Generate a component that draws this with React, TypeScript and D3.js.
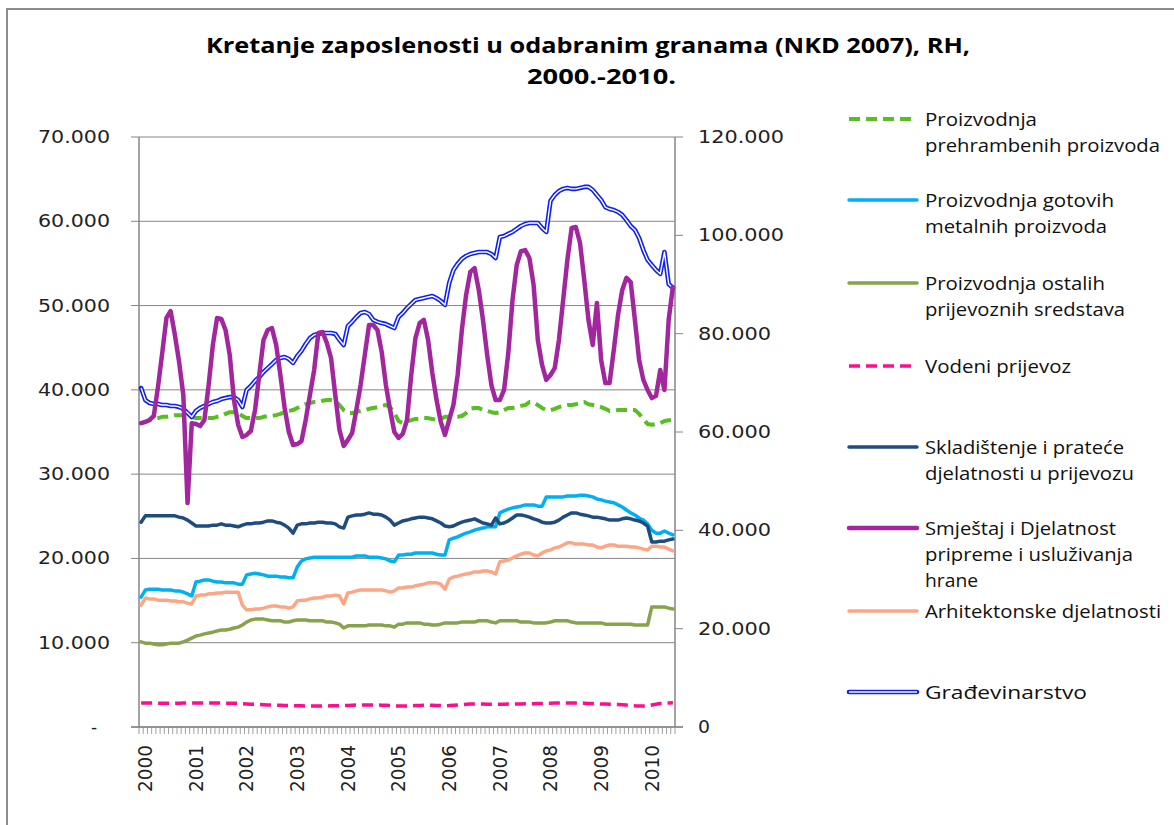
import React from 'react';
import * as d3 from 'd3';

// ---------- DATA ----------
const months: Date[] = d3.timeMonth.range(new Date(2000, 0, 1), new Date(2010, 7, 1)); // Jan 2000 .. Jul 2010 (127)
const yearLabels = ['2000', '2001', '2002', '2003', '2004', '2005', '2006', '2007', '2008', '2009', '2010'];
const leftTicks = [0, 10000, 20000, 30000, 40000, 50000, 60000, 70000];
const rightTicks = [0, 20000, 40000, 60000, 80000, 100000, 120000];

// left axis
const prehrambeni = [
  36050,36200,36400,36550,36650,36800,36800,36900,37000,37000,37000,36900,
  36800,36650,36650,36650,36650,36650,36800,36900,37150,37350,37350,37250,
  36900,36650,36650,36650,36650,36800,36900,36900,37000,37150,37350,37500,
  37600,37850,38100,38300,38450,38550,38550,38700,38800,38800,38700,38200,
  37600,37250,37250,37350,37500,37600,37750,37850,37950,38100,38200,37950,
  37250,36300,36050,36300,36400,36550,36550,36650,36650,36550,36400,36550,
  36800,36800,36800,36800,36900,37250,37750,37850,37850,37600,37500,37350,
  37250,37350,37600,37850,37850,37950,38100,38200,38550,38550,38200,37850,
  37600,37600,37750,37950,38100,38200,38200,38300,38450,38550,38300,38200,
  38100,37950,37750,37500,37500,37600,37600,37600,37600,37600,37150,36550,
  35950,35850,35950,36050,36300,36400,36400];
const metalni = [
  15400,16250,16350,16350,16350,16250,16250,16250,16150,16150,16000,15800,
  15550,17200,17300,17450,17450,17300,17200,17200,17100,17100,17100,16950,
  16950,18050,18150,18250,18150,18050,17900,17900,17900,17800,17800,17700,
  17700,19000,19700,19950,20050,20150,20150,20150,20150,20150,20150,20150,
  20150,20150,20150,20300,20300,20300,20150,20150,20150,20050,19950,19700,
  19600,20400,20400,20500,20500,20650,20650,20650,20650,20650,20500,20400,
  20400,22200,22400,22550,22800,23000,23150,23350,23500,23600,23750,23750,
  23750,25400,25650,25850,26000,26100,26200,26350,26350,26350,26200,26200,
  27300,27300,27300,27300,27300,27400,27400,27400,27500,27500,27400,27300,
  27050,26950,26800,26700,26600,26350,26100,25750,25400,25150,24800,24550,
  24100,23350,23000,23000,23250,23000,22800];
const ostaliPrijevozni = [
  10100,9950,9950,9850,9750,9750,9850,9950,9950,9950,10100,10300,
  10550,10800,10900,11050,11150,11250,11400,11500,11500,11600,11750,11850,
  12100,12450,12700,12800,12800,12800,12700,12600,12600,12600,12450,12450,
  12600,12700,12700,12700,12600,12600,12600,12600,12450,12450,12350,12200,
  11750,12000,12000,12000,12000,12000,12100,12100,12100,12100,12000,12000,
  11850,12200,12200,12350,12350,12350,12350,12200,12200,12100,12100,12200,
  12350,12350,12350,12350,12450,12450,12450,12450,12600,12600,12600,12450,
  12350,12600,12600,12600,12600,12600,12450,12450,12450,12350,12350,12350,
  12350,12450,12600,12600,12600,12600,12450,12350,12350,12350,12350,12350,
  12350,12350,12200,12200,12200,12200,12200,12200,12200,12100,12100,12100,
  12100,14250,14250,14250,14250,14100,14000];
const vodeni = [
  2850,2850,2850,2840,2830,2830,2820,2820,2820,2830,2840,2850,
  2850,2860,2860,2860,2850,2850,2840,2840,2830,2830,2820,2810,
  2750,2720,2700,2680,2660,2640,2620,2600,2580,2570,2560,2550,
  2530,2520,2510,2500,2500,2500,2500,2500,2500,2510,2520,2530,
  2550,2560,2580,2600,2610,2620,2620,2610,2600,2590,2580,2560,
  2500,2490,2490,2500,2520,2540,2560,2580,2580,2570,2560,2550,
  2520,2540,2580,2620,2660,2700,2720,2730,2730,2720,2710,2700,
  2700,2700,2710,2720,2720,2730,2740,2750,2760,2770,2780,2790,
  2800,2820,2840,2850,2850,2860,2860,2850,2840,2830,2800,2780,
  2750,2730,2720,2700,2680,2660,2640,2600,2560,2520,2500,2490,
  2500,2600,2700,2780,2830,2860,2870];
const skladistenje = [
  24300,25050,25050,25050,25050,25050,25050,25050,25050,24900,24800,24550,
  24200,23850,23850,23850,23850,23950,23950,24100,23950,23950,23850,23750,
  23950,24100,24100,24200,24200,24300,24450,24450,24300,24200,23950,23600,
  23000,23950,24100,24100,24200,24200,24300,24300,24200,24200,24100,23750,
  23600,24900,25050,25150,25150,25250,25400,25250,25250,25150,24900,24550,
  23950,24200,24450,24550,24700,24800,24900,24900,24800,24700,24450,24200,
  23850,23750,23850,24100,24300,24450,24550,24700,24450,24200,24100,23950,
  24800,24100,24200,24450,24800,25150,25150,25050,24900,24700,24550,24300,
  24200,24200,24300,24550,24900,25150,25400,25400,25250,25150,25050,24900,
  24900,24800,24700,24550,24550,24550,24700,24800,24700,24550,24450,24200,
  23850,21950,21950,22050,22050,22200,22300];
const arhitektonske = [
  14450,15300,15200,15200,15050,15050,15050,14950,14950,14850,14850,14700,
  14600,15550,15650,15650,15800,15800,15900,15900,16000,16000,16000,16000,
  14450,13900,13900,14000,14000,14100,14250,14350,14350,14250,14250,14100,
  14250,14950,15050,15050,15200,15300,15300,15400,15550,15550,15650,15550,
  14600,15900,16000,16150,16250,16250,16250,16250,16250,16250,16150,16000,
  16150,16500,16500,16600,16600,16750,16850,16950,17100,17100,17100,16950,
  16350,17550,17800,17900,18050,18150,18250,18400,18400,18500,18500,18400,
  18150,19600,19700,19800,20050,20300,20500,20650,20650,20400,20300,20650,
  20900,21000,21250,21350,21600,21850,21850,21700,21700,21700,21600,21600,
  21350,21250,21450,21600,21600,21450,21450,21450,21350,21350,21250,21100,
  21000,21450,21450,21350,21350,21100,20900];
// right axis
const smjestaj = [
  61800,62050,62450,63250,69150,76050,83200,84600,79750,74250,67550,45550,
  61800,61650,61200,62450,69550,77700,83200,83000,80750,75650,66500,61450,
  59000,59400,60200,64500,71600,78700,80750,81150,77700,71600,64900,60000,
  57350,57550,58150,62450,67550,72600,80150,80350,78100,75050,67550,60400,
  57150,58400,59800,64500,69550,75650,81750,81750,80750,76300,69550,64500,
  60000,58800,59600,62450,71600,79100,82150,82800,78700,72000,66500,62050,
  59400,62450,65500,71600,80750,87850,92550,93350,88900,82800,75650,69550,
  66500,66500,68550,76050,86850,93950,96800,97000,95400,89900,78700,73650,
  70600,71600,73000,78700,86850,95000,101500,101700,98450,90900,82800,77700,
  86250,74650,69950,69950,76700,83800,88900,91350,90500,82800,74650,70600,
  68550,66900,67350,72600,68550,82800,89500];
const gradjevinarstvo = [
  68950,66500,65900,65700,65700,65500,65500,65300,65300,65100,64700,63900,
  63050,64300,64900,65300,65700,66100,66300,66700,66900,67100,67100,66500,
  65100,68550,69350,70400,71200,72200,73000,73800,74650,75050,75250,74850,
  74050,75450,76500,77900,79100,79750,79950,80150,80150,80150,79950,78700,
  77700,81550,82400,83400,84200,84400,84000,82800,82400,82150,81950,81550,
  81150,83400,84200,85200,86050,86850,87050,87250,87450,87650,87250,86650,
  85850,90300,92950,94200,95200,95800,96200,96400,96600,96600,96600,96200,
  95400,99650,99850,100300,100700,101300,101900,102300,102500,102500,102500,101500,
  100700,107000,108200,109000,109450,109650,109450,109450,109650,109850,109850,109250,
  108200,107200,105750,105350,105150,104750,104150,103100,101900,101100,99450,97000,
  95000,93950,92950,92150,96600,90100,89300];

type Series = {
  name: string[];
  values: number[];
  axis: 'L' | 'R';
  color: string;
  width: number;
  dash?: string;
  double?: boolean;
  lens: number[];
};

const series: Series[] = [
  { name: ['Proizvodnja', 'prehrambenih proizvoda'], values: prehrambeni, axis: 'L', color: '#58BE22', width: 4, dash: '11,6', lens: [112, 235] },
  { name: ['Proizvodnja gotovih', 'metalnih proizvoda'], values: metalni, axis: 'L', color: '#00B0F0', width: 3.5, lens: [189, 182] },
  { name: ['Proizvodnja ostalih', 'prijevoznih sredstava'], values: ostaliPrijevozni, axis: 'L', color: '#87A34C', width: 3.5, lens: [180, 200] },
  { name: ['Vodeni prijevoz'], values: vodeni, axis: 'L', color: '#FF0D8C', width: 3.5, dash: '11,6', lens: [146] },
  { name: ['Skladištenje i prateće', 'djelatnosti u prijevozu'], values: skladistenje, axis: 'L', color: '#1F4C7E', width: 3.5, lens: [199, 209] },
  { name: ['Smještaj i Djelatnost', 'pripreme i usluživanja', 'hrane'], values: smjestaj, axis: 'R', color: '#A2279E', width: 4.5, lens: [191, 208, 53] },
  { name: ['Arhitektonske djelatnosti'], values: arhitektonske, axis: 'L', color: '#FCA686', width: 3.5, lens: [236] },
  { name: ['Građevinarstvo'], values: gradjevinarstvo, axis: 'R', color: '#1020F0', width: 4.6, double: true, lens: [162] },
];
const legendY = [119, 200, 283, 366, 447, 528, 611, 692];
const drawOrder = [0, 1, 2, 3, 4, 6, 7, 5];

const locale = d3.formatLocale({ decimal: ',', thousands: '.', grouping: [3], currency: ['', ''] });
const fmt = locale.format(',d');

const FONT = "'DejaVu Sans', Verdana, sans-serif";
const LFONT = "'Open Sans', 'Liberation Sans', sans-serif";

export default function App() {
  const W = 1174, H = 825;
  const left = 139, right = 675, top = 137, bottom = 727;
  const x = d3.scaleBand<number>().domain(months.map((_, i) => i)).range([left, right]).padding(0);
  const bw = x.bandwidth();
  const cx = (i: number) => (x(i) as number) + bw / 2;
  const yL = d3.scaleLinear().domain([0, 70000]).range([bottom, top]);
  const yR = d3.scaleLinear().domain([0, 120000]).range([bottom, top]);
  const gray = '#868686';

  const pathFor = (s: Series) => {
    const y = s.axis === 'L' ? yL : yR;
    return d3.line<number>().x((_, i) => cx(i)).y((v) => y(v))(s.values) || '';
  };

  return (
    <svg width={W} height={H} style={{ position: 'absolute', left: 0, top: 0, background: '#fff' }}>
      <rect x={0} y={0} width={W} height={H} fill="#fff" />
      <rect x={7} y={9} width={W + 50} height={H + 50} fill="none" stroke="#8c8c8c" strokeWidth={2} />
      {/* title */}
      <text x={206} y={45} fontFamily={LFONT} fontWeight="bold" fontSize={21} dominantBaseline="central"
        textLength={764} lengthAdjust="spacingAndGlyphs">Kretanje zaposlenosti u odabranim  granama (NKD 2007), RH,</text>
      <text x={527} y={76} fontFamily={LFONT} fontWeight="bold" fontSize={21} dominantBaseline="central"
        textLength={149} lengthAdjust="spacingAndGlyphs">2000.-2010.</text>

      {/* gridlines */}
      {leftTicks.map((t) => (
        <line key={'g' + t} x1={left - 8} x2={right} y1={yL(t)} y2={yL(t)} stroke={gray} strokeWidth={1} />
      ))}
      {rightTicks.map((t) => (
        <line key={'rt' + t} x1={right} x2={right + 8} y1={yR(t)} y2={yR(t)} stroke={gray} strokeWidth={1} />
      ))}
      <line x1={left} x2={left} y1={top} y2={bottom} stroke={gray} strokeWidth={1.5} />
      <line x1={right} x2={right} y1={top} y2={bottom} stroke={gray} strokeWidth={1.5} />
      <line x1={left - 8} x2={right + 8} y1={bottom} y2={bottom} stroke={gray} strokeWidth={1.5} />
      {d3.range(months.length + 1).map((k) => {
        const xx = left + k * bw;
        return <line key={'xt' + k} x1={xx} x2={xx} y1={bottom} y2={bottom + 7} stroke={gray} strokeWidth={0.8} />;
      })}

      {/* left labels */}
      {leftTicks.map((t) =>
        t === 0 ? (
          <text key={'ll' + t} x={94} y={yL(t)} fontFamily={FONT} fontSize={17} textAnchor="middle" dominantBaseline="central" fill="#222">-</text>
        ) : (
          <text key={'ll' + t} x={38} y={yL(t)} fontFamily={FONT} fontSize={17} dominantBaseline="central" fill="#222"
            textLength={72} lengthAdjust="spacingAndGlyphs">{fmt(t)}</text>
        )
      )}
      {rightTicks.map((t) => {
        const s = fmt(t);
        const len = s.length === 1 ? 12 : s.length === 6 ? 73 : 86;
        return (
          <text key={'rl' + t} x={698} y={yR(t)} fontFamily={FONT} fontSize={17} dominantBaseline="central" fill="#222"
            textLength={len} lengthAdjust="spacingAndGlyphs">{s}</text>
        );
      })}
      {yearLabels.map((lab, k) => {
        const xx = cx(k * 12) + 4;
        return (
          <text key={'yl' + lab} transform={`translate(${xx},745) rotate(-90)`} fontFamily={FONT} fontSize={19}
            textAnchor="end" dominantBaseline="central" fill="#222" textLength={47} lengthAdjust="spacingAndGlyphs">{lab}</text>
        );
      })}

      {/* series */}
      {drawOrder.map((idx) => {
        const s = series[idx];
        const d = pathFor(s);
        return (
          <g key={'s' + idx}>
            <path d={d} fill="none" stroke={s.color} strokeWidth={s.width} strokeDasharray={s.dash}
              strokeLinejoin="round" strokeLinecap={s.dash ? 'butt' : 'round'} />
            {s.double && <path d={d} fill="none" stroke="#fff" strokeWidth={1.4} strokeLinejoin="round" />}
          </g>
        );
      })}

      {/* legend */}
      {series.map((s, i) => {
        const ly = legendY[i];
        return (
          <g key={'lg' + i}>
            <line x1={849} x2={917} y1={ly} y2={ly} stroke={s.color} strokeWidth={s.width}
              strokeDasharray={s.dash} strokeLinecap={s.dash ? 'butt' : 'round'} />
            {s.double && <line x1={849} x2={917} y1={ly} y2={ly} stroke="#fff" strokeWidth={1.4} />}
            {s.name.map((ln, j) => (
              <text key={j} x={925} y={ly + j * 26} fontFamily={LFONT} fontSize={18} dominantBaseline="central" fill="#111"
                textLength={s.lens[j]} lengthAdjust="spacingAndGlyphs">{ln}</text>
            ))}
          </g>
        );
      })}
    </svg>
  );
}
